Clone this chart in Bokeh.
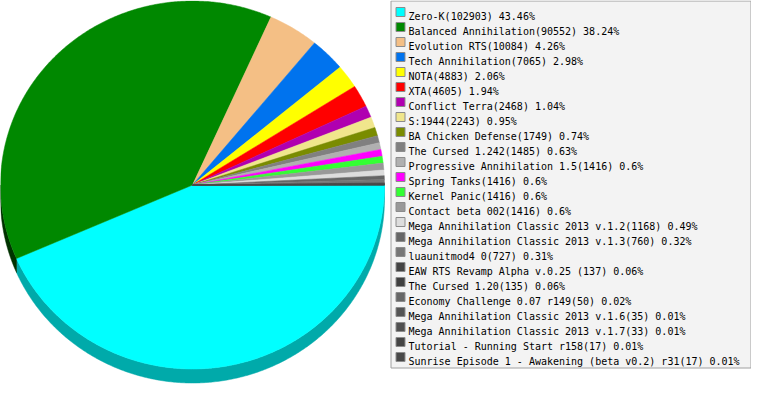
import numpy as np
from bokeh.plotting import figure
from bokeh.models import Range1d
from bokeh.core.properties import value
from bokeh.embed import file_html
from bokeh.resources import INLINE

names = [
    "Zero-K", "Balanced Annihilation", "Evolution RTS", "Tech Annihilation",
    "NOTA", "XTA", "Conflict Terra", "S:1944", "BA Chicken Defense",
    "The Cursed 1.242", "Progressive Annihilation 1.5", "Spring Tanks",
    "Kernel Panic", "Contact beta 002", "Mega Annihilation Classic 2013 v.1.2",
    "Mega Annihilation Classic 2013 v.1.3", "luaunitmod4 0",
    "EAW RTS Revamp Alpha v.0.25 ", "The Cursed 1.20",
    "Economy Challenge 0.07 r149", "Mega Annihilation Classic 2013 v.1.6",
    "Mega Annihilation Classic 2013 v.1.7", "Tutorial - Running Start r158",
    "Sunrise Episode 1 - Awakening (beta v0.2) r31",
]
counts = [102903, 90552, 10084, 7065, 4883, 4605, 2468, 2243, 1749, 1485,
          1416, 1416, 1416, 1416, 1168, 760, 727, 137, 135, 50, 35, 33, 17, 17]
pcts = ["43.46", "38.24", "4.26", "2.98", "2.06", "1.94", "1.04", "0.95",
        "0.74", "0.63", "0.6", "0.6", "0.6", "0.6", "0.49", "0.32", "0.31",
        "0.06", "0.06", "0.02", "0.01", "0.01", "0.01", "0.01"]
colors = ["#00FFFF", "#008800", "#F4BF85", "#0073EE", "#FFFF00", "#FF0000",
          "#B000B0", "#F0E68C", "#7A8C00", "#808080", "#B0B0B0", "#FF00FF",
          "#33FF33", "#999999", "#DDDDDD", "#666666", "#777777", "#444444",
          "#404040", "#666666", "#555555", "#505050", "#444444", "#484848"]

W, H = 751, 384
p = figure(width=W, height=H, output_backend="svg", toolbar_location=None,
           x_range=Range1d(0, W), y_range=Range1d(H, 0), min_border=0)
p.axis.visible = False
p.grid.visible = False
p.outline_line_color = None
p.background_fill_color = "white"
p.border_fill_color = "white"

cx, cy, rx, ry, depth = 192.0, 184.5, 192.0, 184.0, 14.0

def darker(c):
    r, g, b = int(c[1:3], 16), int(c[3:5], 16), int(c[5:7], 16)
    return "#%02x%02x%02x" % (max(r - 85, 0), max(g - 85, 0), max(b - 85, 0))

vals = np.array(counts, dtype=float)
ends = np.cumsum(vals) / vals.sum() * 2 * np.pi
starts = np.concatenate([[0.0], ends[:-1]])

# side walls (visible lower half)
wx, wy, wc = [], [], []
for a0, a1, c in zip(starts, ends, colors):
    b0, b1 = max(a0, 0.0), min(a1, np.pi)
    if b1 <= b0:
        continue
    n = max(2, int(np.degrees(b1 - b0) / 0.5) + 2)
    t = np.linspace(b0, b1, n)
    xs = list(cx + rx * np.cos(t)) + list(cx + rx * np.cos(t[::-1]))
    ys = list(cy + ry * np.sin(t)) + list(cy + depth + ry * np.sin(t[::-1]))
    wx.append(xs); wy.append(ys); wc.append(darker(c))
p.patches(wx, wy, fill_color=wc, line_color=wc, line_width=0.5)

# top surface
tx, ty = [], []
for a0, a1 in zip(starts, ends):
    n = max(2, int(np.degrees(a1 - a0) / 0.5) + 2)
    t = np.linspace(a0, a1, n)
    tx.append([cx] + list(cx + rx * np.cos(t)))
    ty.append([cy] + list(cy + ry * np.sin(t)))
p.patches(tx, ty, fill_color=colors, line_color=colors, line_width=0.5)

# legend box
p.quad(left=390.5, right=750.5, top=0.5, bottom=367.5,
       fill_color="#F3F3F3", line_color="#A0A0A0", line_width=1)
rows = np.arange(len(names))
labels = [f"{n}({c}) {pc}%" for n, c, pc in zip(names, counts, pcts)]
p.quad(left=395.5, right=404.5, top=7.0 + 15 * rows, bottom=16.0 + 15 * rows,
       fill_color=colors, line_color="#8C8C8C", line_width=1)
p.text(x=408, y=15.5 + 15 * rows, text=labels, text_font=value("DejaVu Sans Mono"),
       text_font_size="10px", text_color="#000000", text_baseline="alphabetic",
       text_align="left")

open("out.html", "w").write(file_html(p, INLINE))
